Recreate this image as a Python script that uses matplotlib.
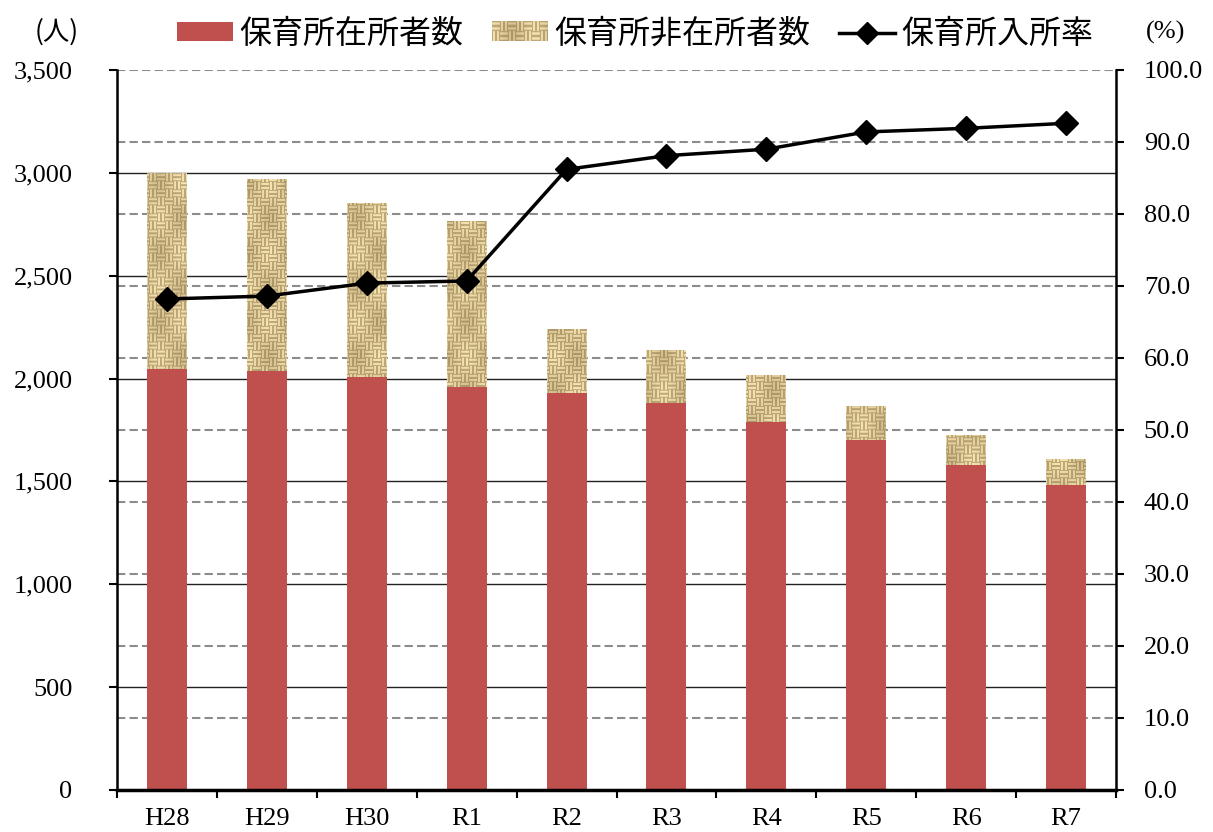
import numpy as np
import matplotlib
matplotlib.use("Agg")
import matplotlib.pyplot as plt
from matplotlib.patches import Patch
from matplotlib.lines import Line2D
from matplotlib.legend_handler import HandlerBase
from matplotlib.image import BboxImage
from matplotlib.transforms import Bbox, TransformedBbox
from matplotlib.ticker import FixedLocator, FuncFormatter

# ---- data ----
years = ["H28", "H29", "H30", "R1", "R2", "R3", "R4", "R5", "R6", "R7"]
enrolled = [2045, 2037, 2008, 1959, 1930, 1881, 1789, 1701, 1580, 1483]
not_enrolled = [955, 933, 846, 807, 311, 258, 228, 166, 146, 126]
rate = [68.2, 68.6, 70.4, 70.7, 86.2, 88.1, 89.0, 91.4, 91.9, 92.6]

legend_labels = ["保育所在所者数", "保育所非在所者数", "保育所入所率"]

RED = "#C0504D"
CJK = ["Noto Sans CJK JP", "DejaVu Sans"]
SERIF = "Liberation Serif"


def burlap(h, w):
    """Woven burlap-like texture as an RGB array."""
    i, j = np.mgrid[0:h, 0:w]
    block = ((i // 8) + (j // 8)) % 2
    horiz = np.sin(np.pi * ((i % 4) + 0.5) / 4.0)
    vert = np.sin(np.pi * ((j % 4) + 0.5) / 4.0)
    b = np.where(block == 0, horiz, vert)
    mott = 0.80 + 0.20 * np.sin(i / 11.0 + 0.7) * np.cos(j / 7.0 + 0.3)
    b = np.clip(b * mott, 0, 1) ** 0.6
    b = b[..., None]
    dark = np.array([0.45, 0.35, 0.17])
    light = np.array([0.99, 0.92, 0.72])
    return dark + (light - dark) * b


class HandlerTexture(HandlerBase):
    def __init__(self, tile):
        super().__init__()
        self.tile = tile

    def create_artists(self, legend, orig_handle, xdescent, ydescent,
                       width, height, fontsize, trans):
        bb = Bbox.from_bounds(-xdescent, -ydescent, width, height)
        img = BboxImage(TransformedBbox(bb, trans), interpolation="bilinear")
        img.set_data(self.tile)
        return [img]


W, H = 1213, 832
fig = plt.figure(figsize=(W / 100, H / 100), dpi=100)
rect = [117 / W, 1 - 790 / H, (1116 - 117) / W, (790 - 70) / H]

x = np.arange(len(years))

# dashed grid of the percentage scale, behind everything
ax_grid = fig.add_axes(rect)
ax_grid.set_xlim(-0.5, len(years) - 0.5)
ax_grid.set_ylim(0, 100)
ax_grid.set_yticks(np.arange(0, 101, 10))
ax_grid.set_xticks([])
ax_grid.tick_params(left=False, labelleft=False)
ax_grid.grid(axis="y", color="#8c8c8c", linestyle=(0, (4, 2)), linewidth=1.5)
for s in ax_grid.spines.values():
    s.set_visible(False)

# counts (left axis)
ax = fig.add_axes(rect)
ax.patch.set_visible(False)
ax.bar(x, enrolled, width=0.4, color=RED, zorder=2)
top_bars = ax.bar(x, not_enrolled, bottom=enrolled, width=0.4,
                  facecolor="none", edgecolor="none", zorder=2)

tex = burlap(720, 1000)
for bar in top_bars:
    im = ax.imshow(tex, extent=(-0.5, len(years) - 0.5, 0, 3500),
                   aspect="auto", interpolation="bilinear", zorder=2)
    im.set_clip_path(bar)

ax.set_xlim(-0.5, len(years) - 0.5)
ax.set_ylim(0, 3500)
ax.set_yticks(np.arange(0, 3501, 500))
ax.yaxis.set_major_formatter(FuncFormatter(lambda v, p: f"{int(v):,}"))
ax.grid(axis="y", color="#222222", linewidth=1.0, zorder=0)
ax.set_axisbelow(True)
gl = ax.get_ygridlines()
gl[0].set_visible(False)
gl[-1].set_visible(False)

# category boundaries carry the tick marks, centres carry the labels
ax.xaxis.set_major_locator(FixedLocator(np.arange(-0.5, len(years), 1.0)))
ax.xaxis.set_minor_locator(FixedLocator(x))
ax.xaxis.set_major_formatter(FuncFormatter(lambda v, p: ""))
ax.set_xticks(x, minor=True)
ax.set_xticklabels(years, minor=True)
ax.tick_params(axis="x", which="major", direction="out", length=6, width=1.5)
ax.tick_params(axis="x", which="minor", length=0, pad=13, labelsize=19)
ax.tick_params(axis="y", direction="out", length=6, width=1.5, pad=26, labelsize=19)
for lbl in ax.get_xticklabels(minor=True) + ax.get_yticklabels():
    lbl.set_fontfamily(SERIF)

ax.spines["top"].set_visible(False)
ax.spines["right"].set_visible(False)
ax.spines["left"].set_linewidth(1.8)
ax.spines["bottom"].set_linewidth(2.5)

# rate (right axis)
ax2 = ax.twinx()
ax2.plot(x, rate, color="black", linewidth=2.5, marker="D", markersize=12,
         zorder=5, clip_on=False)
ax2.set_ylim(0, 100)
ax2.set_yticks(np.arange(0, 101, 10))
ax2.yaxis.set_major_formatter(FuncFormatter(lambda v, p: f"{v:.1f}"))
ax2.tick_params(axis="y", direction="out", length=6, width=1.5, pad=14, labelsize=19)
for lbl in ax2.get_yticklabels():
    lbl.set_fontfamily(SERIF)
for side in ("top", "left", "bottom"):
    ax2.spines[side].set_visible(False)
ax2.spines["right"].set_linewidth(1.8)

# axis unit captions
fig.text(57 / W, 1 - 32 / H, "(人)", ha="center", va="center",
         fontsize=19, family=CJK)
fig.text(1166 / W, 1 - 32 / H, "(%)", ha="center", va="center",
         fontsize=19, family=SERIF)

# legend
h_red = Patch(facecolor=RED, edgecolor="none")
h_tex = Patch(facecolor="#C9AE78", edgecolor="none")
h_line = Line2D([], [], color="black", linewidth=2.5, marker="D", markersize=11)
fig.legend([h_red, h_tex, h_line], legend_labels,
           handler_map={h_tex: HandlerTexture(burlap(16, 56))},
           loc="center", bbox_to_anchor=(635 / W, 1 - 34 / H), ncol=3,
           frameon=False, prop={"family": CJK, "size": 23},
           handlelength=1.75, handleheight=0.55, handletextpad=0.2,
           columnspacing=0.9, numpoints=1, borderpad=0, borderaxespad=0)

fig.savefig("out.png", dpi=100, facecolor="white")
